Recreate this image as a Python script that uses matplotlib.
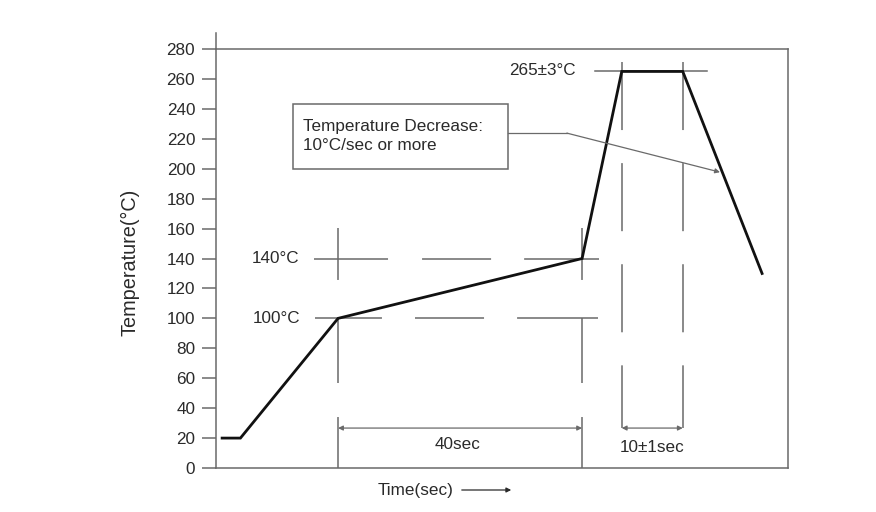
import matplotlib
matplotlib.use("Agg")
import matplotlib.pyplot as plt
from matplotlib.patches import Rectangle, FancyArrowPatch

# reflow profile
time_s = [1, 4, 20, 60, 66.5, 76.5, 89.5]
temp_c = [20, 20, 100, 140, 265, 265, 130]
y_ticks = list(range(0, 281, 20))

preheat_low, preheat_high = 100, 140
peak_temp = 265
dim_y = 26.7

label_preheat = "40sec"
label_peak = "10\u00b11sec"
label_peak_temp = "265\u00b13\u00b0C"
label_note = "Temperature Decrease:\n10\u00b0C/sec or more"

plt.rcParams["font.family"] = ["Liberation Sans", "DejaVu Sans"]
plt.rcParams["lines.scale_dashes"] = False

GREY = "#6a6a6a"
TXT = "#2a2a2a"
FS = 12.3

fig = plt.figure(figsize=(8.76, 5.12), dpi=100)
ax = fig.add_axes([0.2466, 0.0859, 0.8992 - 0.2466, 0.9043 - 0.0859])
ax.set_xlim(0, 93.7)
ax.set_ylim(0, 280)

for side in ["left", "right", "top", "bottom"]:
    ax.spines[side].set_color(GREY)
    ax.spines[side].set_linewidth(1.1)
ax.set_xticks([])
ax.set_yticks(y_ticks)
ax.tick_params(axis="y", length=10, width=1.1, color=GREY, labelsize=FS,
               labelcolor=TXT, pad=5)
# left axis runs a little past the top frame
ax.plot([0, 0], [280, 290.5], color=GREY, lw=1.1, clip_on=False)

t_pre0, t_pre1, t_pk0, t_pk1 = time_s[2], time_s[3], time_s[4], time_s[5]

# guide lines
ax.plot([t_pre0 - 3.9, t_pre1 + 2.8], [preheat_high] * 2, color=GREY, lw=1.1,
        linestyle=(0, (53.3, 24.5, 49.7, 23.8, 54, 30)))
ax.plot([t_pre0 - 3.8, t_pre1 + 2.6], [preheat_low] * 2, color=GREY, lw=1.1,
        linestyle=(0, (48.2, 23.8, 49.7, 23.8, 58.3, 30)))
for t in [t_pre0, t_pre1]:
    ax.plot([t, t], [160.3, 0], color=GREY, lw=1.1,
            linestyle=(0, (37.4, 27.4, 46.8, 24.5, 36.7, 30)))
for t in [t_pk0, t_pk1]:
    ax.plot([t, t], [271.2, dim_y], color=GREY, lw=1.1,
            linestyle=(0, (49, 23.8)))
ax.plot([t_pk0 - 4.4, t_pk1 + 4.0], [peak_temp] * 2, color=GREY, lw=1.1)

# the profile itself
ax.plot(time_s, temp_c, color="#111111", lw=2.0, solid_joinstyle="miter")

# dimension arrows
arrow_kw = dict(arrowstyle="<|-|>", color=GREY, lw=0.9, mutation_scale=7,
                shrinkA=0, shrinkB=0)
ax.annotate("", xy=(t_pre0, dim_y), xytext=(t_pre1, dim_y), arrowprops=arrow_kw)
ax.annotate("", xy=(t_pk0, dim_y), xytext=(t_pk1, dim_y), arrowprops=arrow_kw)
ax.text((t_pre0 + t_pre1) / 2 - 0.4, 16, label_preheat, ha="center", va="center",
        fontsize=FS, color=TXT)
ax.text((t_pk0 + t_pk1) / 2, 14, label_peak, ha="center", va="center",
        fontsize=FS, color=TXT)

# temperature labels
ax.text(13.7, preheat_high, "140\u00b0C", ha="right", va="center", fontsize=FS, color=TXT)
ax.text(13.9, preheat_low, "100\u00b0C", ha="right", va="center", fontsize=FS, color=TXT)
ax.text(59.0, peak_temp + 0.5, label_peak_temp, ha="right", va="center",
        fontsize=FS, color=TXT)

# note box with leader arrow
ax.add_patch(Rectangle((12.6, 199.7), 47.9 - 12.6, 243.2 - 199.7, fill=False,
                       edgecolor=GREY, lw=1.1))
ax.text(14.3, 222.0, label_note, ha="left", va="center", fontsize=FS, color=TXT,
        linespacing=1.35)
ax.plot([47.9, 57.5], [223.8, 223.8], color=GREY, lw=0.9)
ax.annotate("", xy=(82.6, 197.7), xytext=(57.5, 223.8),
            arrowprops=dict(arrowstyle="-|>", color=GREY, lw=0.9,
                            mutation_scale=7, shrinkA=0, shrinkB=0))

# axis titles
fig.text(130 / 876, 1 - 262 / 512, "Temperature(\u00b0C)", rotation=90,
         ha="center", va="center", fontsize=14.3, color=TXT)
fig.text(416 / 876, 1 - 490 / 512, "Time(sec)", ha="center", va="center",
         fontsize=FS, color=TXT)
fig.add_artist(FancyArrowPatch(
    (459 / 876, 1 - 490 / 512), (514 / 876, 1 - 490 / 512),
    transform=fig.transFigure, arrowstyle="-|>", color=TXT, lw=0.9,
    mutation_scale=7))

fig.savefig("out.png", dpi=100)
